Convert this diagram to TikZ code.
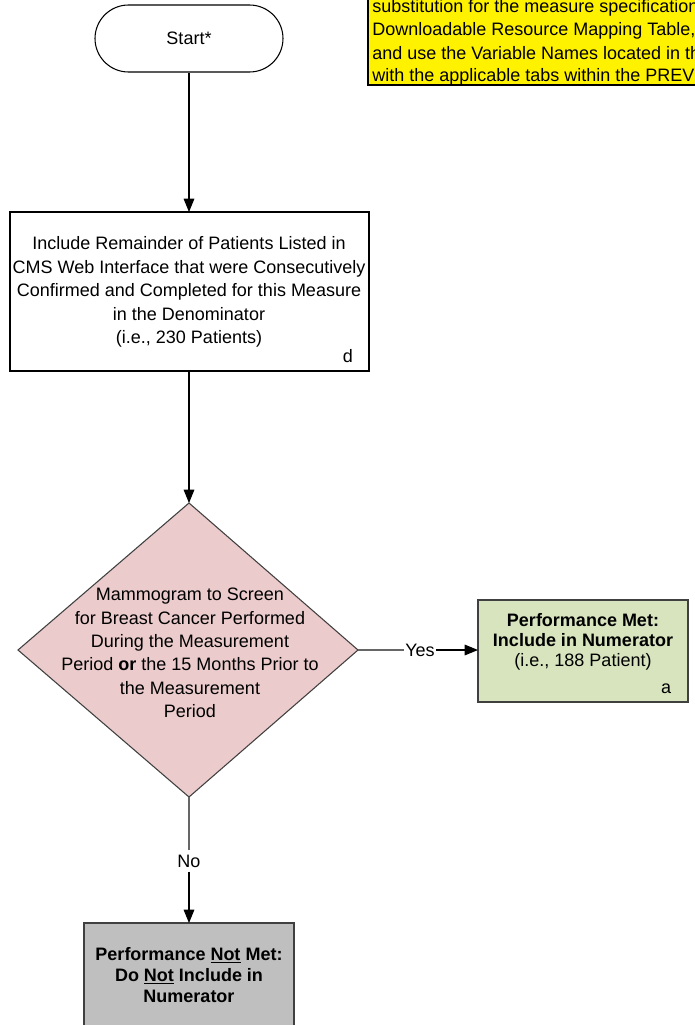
\documentclass[tikz,border=0pt]{standalone}
\usepackage{fontspec}
\setmainfont{Liberation Sans}
\usetikzlibrary{arrows.meta,shapes.geometric,shapes.misc}
\definecolor{pinkfill}{HTML}{EBCBCB}
\definecolor{greenfill}{HTML}{D7E4BD}
\definecolor{grayfill}{HTML}{BFBFBF}
\definecolor{lineg}{HTML}{404040}
\tikzset{
  txt/.style={font=\fontsize{13.5}{17.6}\selectfont, align=center, inner sep=0pt},
  txtb/.style={font=\fontsize{13.5}{15.2}\selectfont, align=center, inner sep=0pt},
  conn/.style={draw=black, line width=0.8pt, -{Triangle[length=10pt,width=8pt]}},
  plain/.style={draw=black!60, line width=0.8pt},
}
\begin{document}
\begin{tikzpicture}[x=0.75pt,y=-0.75pt]
\useasboundingbox (0,0) rectangle (695,1025);
\clip (0,0) rectangle (695,1025);
% yellow note
\fill[yellow] (368,-40) rectangle (720,85);
\draw[black, line width=0.8pt] (720,85) -- (368,85) -- (368,-40);
\node[txt, anchor=west] (n1) at (372,8) {substitution for the measure specification};
\node[txt, anchor=west] (n2) at (372,31) {Downloadable Resource Mapping Table,};
\node[txt, anchor=west] (n3) at (372,53) {and use the Variable Names located in th};
\node[txt, anchor=west] (n4) at (372,77) {with the applicable tabs within the PREV};
% start
\node[draw=black, line width=0.8pt, rounded rectangle, minimum width=188*0.75pt, minimum height=67*0.75pt, inner sep=0pt, font=\fontsize{13.5}{16}\selectfont] (start) at (189,38.5) {Start*};
% box d
\draw[black, line width=0.8pt] (10,212) rectangle (369,371);
\coordinate (dtop) at (189,212);
\coordinate (dbot) at (189,371);
\node[txt] (dtext) at (189,292) {Include Remainder of Patients Listed in\\CMS Web Interface that were Consecutively\\Confirmed and Completed for this Measure\\in the Denominator\\(i.e., 230 Patients)};
\node[txt] (dlab) at (348,356) {d};
% diamond
\draw[fill=pinkfill, draw=black!75, line width=0.8pt] (189,503) -- (358,650) -- (189,797) -- (18,650) -- cycle;
\coordinate (ditop) at (189,503);
\coordinate (diright) at (358,650);
\coordinate (dibot) at (189,797);
\node[txt] (ditext) at (190,653) {Mammogram to Screen\\for Breast Cancer Performed\\During the Measurement\\Period \textbf{or} the 15 Months Prior to\\the Measurement\\Period};
% green box
\draw[fill=greenfill, draw=lineg, line width=0.8pt] (478,600) rectangle (688,702);
\coordinate (gleft) at (478,650);
\node[txtb] (gtext) at (583,642) {\textbf{Performance Met:}\\\textbf{Include in Numerator}\\(i.e., 188 Patient)};
\node[txt] (glab) at (666,689) {a};
% gray box
\draw[fill=grayfill, draw=lineg, line width=0.8pt] (84,1040) -- (84,923) -- (294,923) -- (294,1040);
\coordinate (gtop) at (189,923);
\node[txt, font=\bfseries\fontsize{13.5}{15.6}\selectfont] (graytext) at (189,975) {Performance \underline{Not} Met:\\Do \underline{Not} Include in\\Numerator};
% connectors
\draw[conn] (start.south) -- (dtop);
\draw[conn] (dbot) -- (ditop);
\node[txt, fill=white, inner xsep=1pt] (yes) at (420,650) {Yes};
\draw[plain] (diright) -- (yes.west);
\draw[conn] (yes.east) -- (gleft);
\node[txt, fill=white, inner ysep=3pt] (no) at (189,861) {No};
\draw[plain] (dibot) -- (no.north);
\draw[conn] (no.south) -- (gtop);
\end{tikzpicture}
\end{document}
